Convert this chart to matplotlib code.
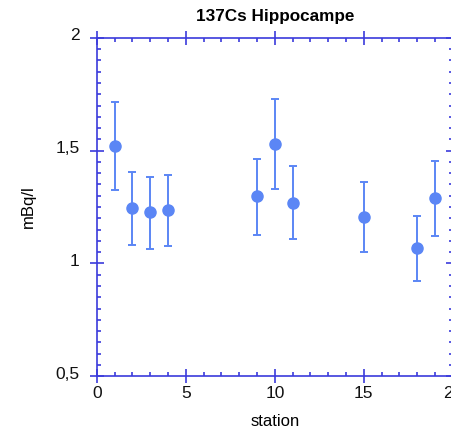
import matplotlib
matplotlib.use("Agg")
import matplotlib.pyplot as plt
import matplotlib.transforms as mtransforms
from matplotlib.ticker import MultipleLocator, FuncFormatter

station = [1, 2, 3, 4, 9, 10, 11, 15, 18, 19]
value = [1.52, 1.245, 1.226, 1.235, 1.297, 1.531, 1.27, 1.208, 1.068, 1.288]
err_hi = [1.716, 1.407, 1.385, 1.392, 1.461, 1.729, 1.432, 1.361, 1.21, 1.454]
err_lo = [1.325, 1.083, 1.064, 1.079, 1.126, 1.332, 1.108, 1.051, 0.923, 1.121]

title = "137Cs Hippocampe"
xlabel = "station"
ylabel = "mBq/l"

plt.rcParams['font.family'] = ['Liberation Sans', 'DejaVu Sans']

axis_col = '#3b3bdc'
pt_col = '#5b86f5'

fig = plt.figure(figsize=(4.52, 4.30), dpi=100)
ax = fig.add_axes([0.214, 0.125, 0.788, 0.787])

yerr = [[v - l for v, l in zip(value, err_lo)], [h - v for v, h in zip(value, err_hi)]]
ax.errorbar(station, value, yerr=yerr, fmt='o', color=pt_col, ecolor=pt_col,
            markersize=8, elinewidth=1.4, capsize=3, capthick=1.4, clip_on=False)

ax.set_xlim(0, 20)
ax.set_ylim(0.5, 2)
ax.xaxis.set_major_locator(MultipleLocator(5))
ax.xaxis.set_minor_locator(MultipleLocator(1))
ax.yaxis.set_major_locator(MultipleLocator(0.5))
ax.yaxis.set_minor_locator(MultipleLocator(0.05))

def fmt(v, pos):
    return ('%g' % v).replace('.', ',')
ax.yaxis.set_major_formatter(FuncFormatter(fmt))

for sp in ax.spines.values():
    sp.set_color(axis_col)
    sp.set_linewidth(1.2)

ax.tick_params(which='major', direction='inout', length=10.5, width=1.2, color=axis_col,
               top=True, right=True, labelsize=12.5, labelcolor='#111111', pad=2)
ax.tick_params(which='minor', direction='in', length=3.2, width=1.2, color=axis_col,
               top=True, right=True)
ax.tick_params(axis='y', which='major', pad=7)

offset = mtransforms.ScaledTranslation(0, 2.5 / 72, fig.dpi_scale_trans)
for lbl in ax.get_yticklabels():
    lbl.set_transform(lbl.get_transform() + offset)

ax.set_title(title, fontsize=12.3, fontweight='bold', pad=12)
ax.set_xlabel(xlabel, fontsize=12, labelpad=9)
ax.set_ylabel(ylabel, fontsize=12, labelpad=14)

fig.savefig('out.png', dpi=100)
